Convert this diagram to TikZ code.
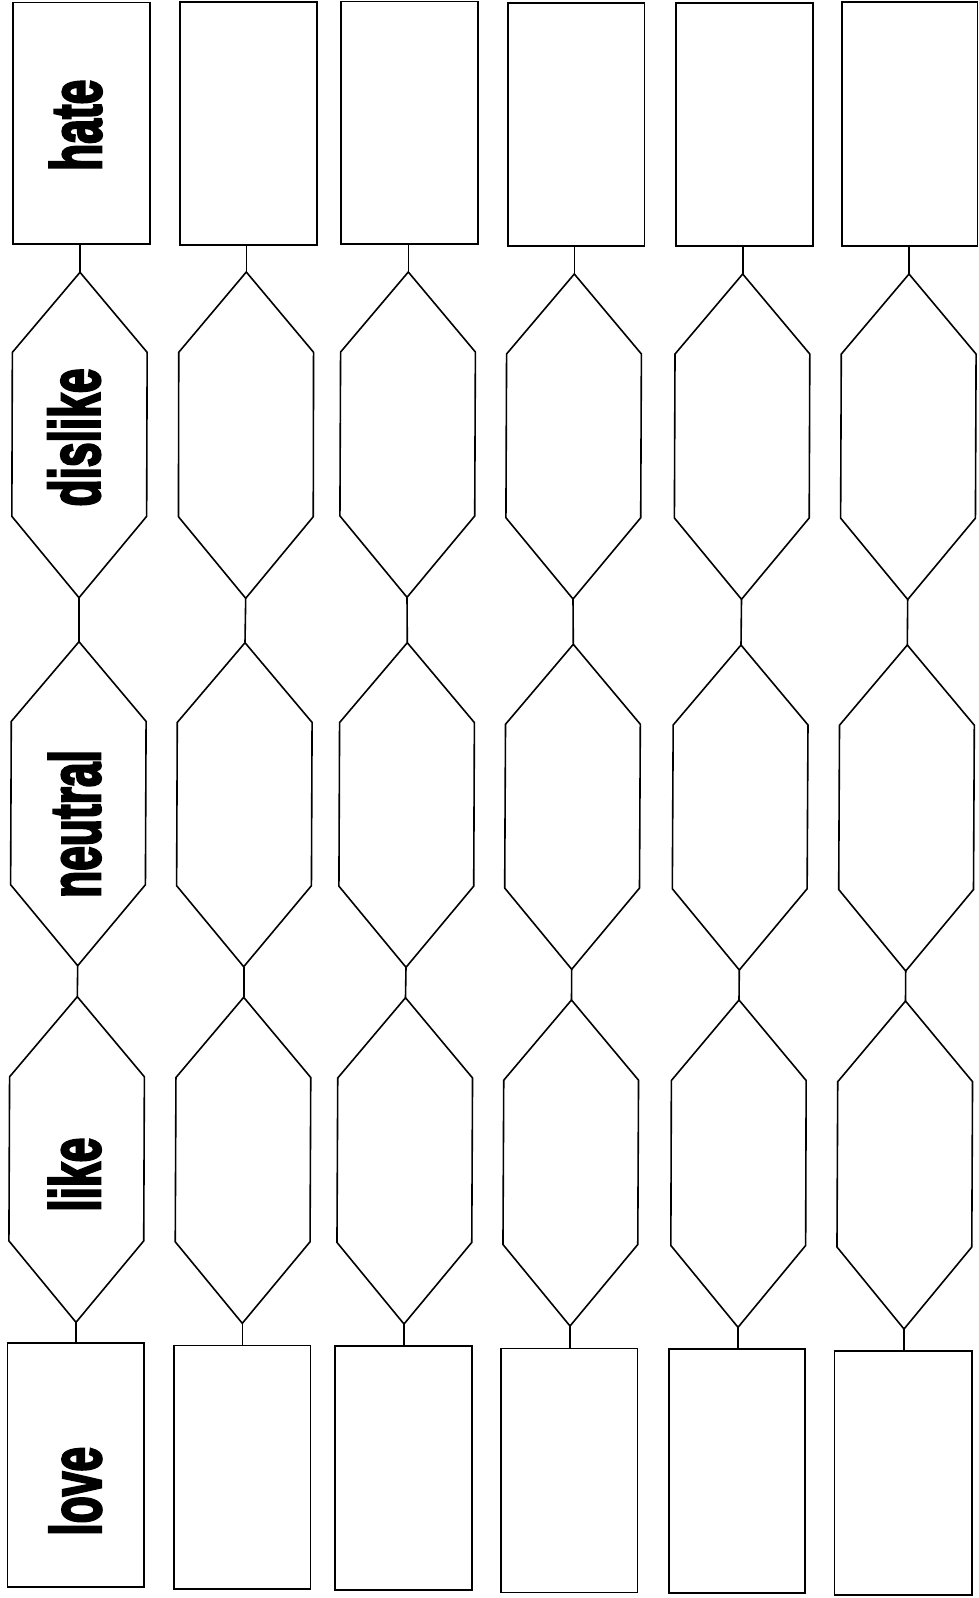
\documentclass[tikz,border=0pt]{standalone}
\usepackage{fontspec}
\usetikzlibrary{calc}
\newfontfamily\labfont{Liberation Sans Bold}[FakeBold=4]
\tikzset{
  shapeline/.style={draw=black, line width=1.6pt},
  box/.style={shapeline, rectangle, inner sep=0pt, outer sep=0pt},
  lab/.style={rotate=90, anchor=base, inner sep=0pt, text=black,
              font=\labfont\fontsize{71}{71}\selectfont},
}
\newcommand{\rbox}[5]{%
  \node[box, minimum width={#4-#2}, minimum height={#5-#3}] (#1) at ({(#2+#4)/2},{(#3+#5)/2}) {};}
\newcommand{\hexcell}[5]{%
  \coordinate (#1t) at (#2,#3);
  \coordinate (#1b) at (#4,#5);
  \draw[shapeline] (#1t) -- ($(#1t)!0.246!(#1b)+(67.4,0)$) -- ($(#1t)!0.75!(#1b)+(67.4,0)$)
    -- (#1b) -- ($(#1t)!0.75!(#1b)+(-67.4,0)$) -- ($(#1t)!0.246!(#1b)+(-67.4,0)$) -- cycle;}
\begin{document}
\begin{tikzpicture}[x=1pt, y=-1pt]
\useasboundingbox (0,0) rectangle (979,1598);
\fill[white] (0,0) rectangle (979,1598);
% top rectangles
\rbox{t1}{12.7}{2.3}{149.7}{244}
\rbox{t2}{180}{2}{316.7}{245}
\rbox{t3}{341}{1.3}{478}{244}
\rbox{t4}{508}{3}{644.3}{246}
\rbox{t5}{676}{3}{813}{246}
\rbox{t6}{842}{2}{977.5}{246}
% bottom rectangles
\rbox{b1}{7.3}{1343}{144}{1587}
\rbox{b2}{173.7}{1345.3}{310.3}{1588.7}
\rbox{b3}{335}{1346}{472}{1590}
\rbox{b4}{501}{1348.3}{637.3}{1592.3}
\rbox{b5}{669}{1349}{805}{1593}
\rbox{b6}{834.3}{1351}{972}{1595}
% hexagons: dislike (D), neutral (N), like (L)
\hexcell{D1}{80}{272.3}{79}{597.7}
\hexcell{N1}{79}{641.7}{77.7}{965.7}
\hexcell{L1}{77.3}{996.7}{76}{1322.3}
\hexcell{D2}{246.3}{272}{245.7}{598.3}
\hexcell{N2}{245}{642.7}{243.7}{966.7}
\hexcell{L2}{243.7}{997.3}{242.3}{1323.3}
\hexcell{D3}{408.3}{272}{407}{597.3}
\hexcell{N3}{407.3}{642.7}{406}{967.3}
\hexcell{L3}{405.5}{997.7}{404}{1324}
\hexcell{D4}{574.3}{274}{573}{599}
\hexcell{N4}{573.3}{644.3}{571.7}{969.3}
\hexcell{L4}{571.5}{1000}{570}{1326}
\hexcell{D5}{742.7}{274}{741.5}{599.3}
\hexcell{N5}{741}{645}{739.3}{970}
\hexcell{L5}{739}{1000}{738}{1327.3}
\hexcell{D6}{909}{274}{907.7}{599.5}
\hexcell{N6}{907.3}{645}{905.7}{971}
\hexcell{L6}{905.5}{1001}{904}{1329}
% connectors
\foreach \i in {1,...,6}{
  \draw[shapeline] (t\i.south -| D\i t) -- (D\i t);
  \draw[shapeline] (D\i b) -- (N\i t);
  \draw[shapeline] (N\i b) -- (L\i t);
  \draw[shapeline] (L\i b) -- (L\i b |- b\i.north);
}
% labels
\node[lab] (lhate) at (101,125.3) {\scalebox{0.624}[1]{hate}};
\node[lab] (ldislike) at (99.5,437.5) {\scalebox{0.624}[1]{dislike}};
\node[lab] (lneutral) at (100,824) {\scalebox{0.624}[1]{neutral}};
\node[lab] (llike) at (100,1174.7) {\scalebox{0.624}[1]{like}};
\node[lab] (llove) at (100.7,1491.3) {\scalebox{0.624}[1]{love}};
\end{tikzpicture}
\end{document}
